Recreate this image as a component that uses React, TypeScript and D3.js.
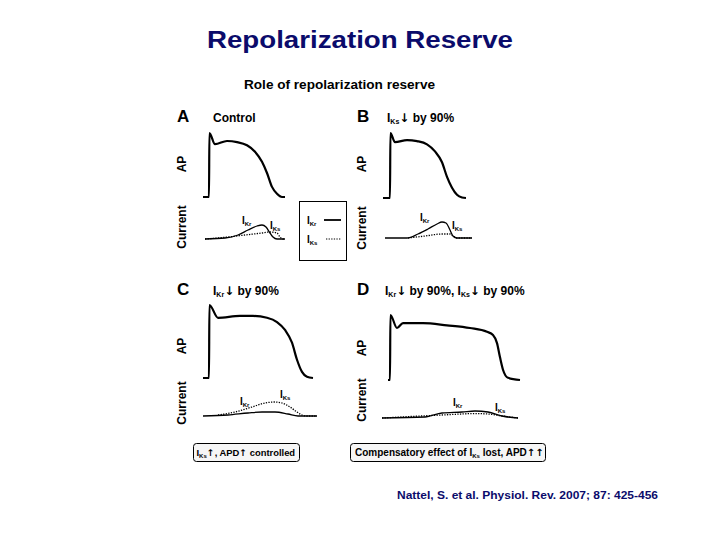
import * as d3 from "d3";

type Pt = [number, number];

// action potentials: [time ms, voltage mV]
const apA: Pt[] = [[-30, -85], [0, -85], [2, 35], [30, 14], [90, 20], [140, 18], [190, 12], [230, 0], [265, -19], [290, -40], [315, -66], [340, -79], [365, -85], [380, -85]];
const apB: Pt[] = [[-35, -85], [0, -85], [2, 35], [25, 18], [85, 22], [135, 20], [185, 14], [225, 1], [260, -19], [285, -46], [310, -66], [335, -79], [360, -84], [380, -85]];
const apC: Pt[] = [[-30, -85], [0, -85], [2, 35], [45, 14], [155, 17], [220, 17], [290, 14], [340, 7], [380, -6], [415, -27], [440, -55], [465, -75], [490, -83], [520, -85]];
const apD: Pt[] = [[-10, -85], [0, -85], [2, 35], [35, 11], [65, 20], [165, 20], [285, 16], [400, 11], [485, 4], [515, -2], [535, -17], [550, -43], [565, -66], [590, -81], [650, -85]];

// currents: [time ms, relative amplitude]
const ikrA: Pt[] = [[-20, 0], [80, 0.05], [145, 0.2], [195, 0.45], [240, 0.65], [265, 0.7], [285, 0.6], [305, 0.3], [320, 0.1], [340, 0], [380, 0]];
const iksA: Pt[] = [[-20, 0], [95, 0.1], [180, 0.2], [265, 0.3], [305, 0.35], [340, 0.3], [355, 0.1], [370, 0], [380, 0]];
const ikrB: Pt[] = [[-25, 0], [85, 0], [140, 0.2], [190, 0.45], [235, 0.7], [260, 0.8], [280, 0.75], [300, 0.4], [315, 0.1], [335, 0], [410, 0]];
const iksB: Pt[] = [[90, 0], [175, 0.1], [260, 0.2], [300, 0.2], [315, 0.1], [335, 0], [410, 0]];
const ikrC: Pt[] = [[-30, 0], [95, 0.05], [195, 0.15], [265, 0.2], [330, 0.2], [395, 0.1], [445, 0], [540, 0]];
const iksC: Pt[] = [[45, 0.05], [130, 0.2], [215, 0.45], [280, 0.65], [330, 0.7], [365, 0.65], [405, 0.45], [440, 0.2], [465, 0.05], [490, 0], [540, 0]];
const ikrD: Pt[] = [[-40, 0], [175, 0.05], [260, 0.25], [360, 0.3], [425, 0.35], [490, 0.3], [560, 0.1], [640, 0]];
const iksD: Pt[] = [[-40, 0], [260, 0.15], [425, 0.22], [490, 0.2], [560, 0.1], [640, 0]];

const font = "'Liberation Sans', Arial, Helvetica, sans-serif";
const arrowFont = "'DejaVu Sans', sans-serif";
const navy = "#0b0b6b";

interface PanelProps {
  letter: string;
  ap: Pt[];
  ikr: Pt[];
  iks: Pt[];
  x0: number;
  apBase: number;
  apPeak: number;
  curBase: number;
  labelX: number;
  apLabelY: number;
  curLabelY: number;
  titleX: number;
  titleY: number;
  title: React.ReactNode;
  ikrLabel: [number, number];
  iksLabel: [number, number];
}

// "I" with subscript; anything after is shifted back to the baseline
const Sub: React.FC<{ main: string; sub: string; size?: number; children?: React.ReactNode }> = ({ main, sub, size = 7, children }) => (
  <>
    <tspan>{main}</tspan>
    <tspan fontSize={size} dy={2}>{sub}</tspan>
    {children ? <tspan dy={-2}>{children}</tspan> : null}
  </>
);

const Arrow: React.FC<{ ch: string; size?: number }> = ({ ch, size }) => (
  <tspan fontFamily={arrowFont} fontSize={size}>{ch}</tspan>
);

const Panel: React.FC<PanelProps> = (p) => {
  const x = d3.scaleLinear([0, 1000], [p.x0, p.x0 + 200]);
  const yAp = d3.scaleLinear([-85, 35], [p.apBase, p.apPeak]);
  const yCur = d3.scaleLinear([0, 1], [p.curBase, p.curBase - 20]);
  const apLine = d3.line<Pt>((d) => x(d[0]), (d) => yAp(d[1])).curve(d3.curveMonotoneX);
  const curLine = d3.line<Pt>((d) => x(d[0]), (d) => yCur(d[1])).curve(d3.curveMonotoneX);
  return (
    <g fontFamily={font} fontWeight="bold">
      <text x={p.labelX} y={p.titleY} fontSize={17}>{p.letter}</text>
      <text x={p.titleX} y={p.titleY} fontSize={12}>{p.title}</text>
      <text transform={`translate(${p.labelX + 9},${p.apLabelY}) rotate(-90)`} textAnchor="middle" fontSize={12}>AP</text>
      <text transform={`translate(${p.labelX + 9},${p.curLabelY}) rotate(-90)`} textAnchor="middle" fontSize={12}>Current</text>
      <path d={apLine(p.ap) ?? undefined} fill="none" stroke="#000" strokeWidth={2.2} />
      <path d={curLine(p.iks) ?? undefined} fill="none" stroke="#000" strokeWidth={1.3} strokeDasharray="1.3,1.3" />
      <path d={curLine(p.ikr) ?? undefined} fill="none" stroke="#000" strokeWidth={1.3} />
      <text x={p.ikrLabel[0]} y={p.ikrLabel[1]} fontSize={10}><Sub main="I" sub="Kr" size={6} /></text>
      <text x={p.iksLabel[0]} y={p.iksLabel[1]} fontSize={10}><Sub main="I" sub="Ks" size={6} /></text>
    </g>
  );
};

const App: React.FC = () => {
  return (
    <svg width={720} height={540} style={{ position: "absolute", left: 0, top: 0, background: "#fff" }}>
      <text x={360} y={48} textAnchor="middle" fontFamily={font} fontWeight="bold" fontSize={23} fill={navy} textLength={306} lengthAdjust="spacingAndGlyphs">Repolarization Reserve</text>
      <text x={244} y={89} fontFamily={font} fontWeight="bold" fontSize={12} textLength={191} lengthAdjust="spacingAndGlyphs">Role of repolarization reserve</text>

      <Panel letter="A" ap={apA} ikr={ikrA} iks={iksA} x0={209} apBase={197} apPeak={133} curBase={239}
        labelX={177} apLabelY={164} curLabelY={227} titleX={213} titleY={122} title="Control"
        ikrLabel={[242, 224]} iksLabel={[270, 229]} />
      <Panel letter="B" ap={apB} ikr={ikrB} iks={iksB} x0={390} apBase={198} apPeak={133} curBase={238}
        labelX={357} apLabelY={164} curLabelY={228} titleX={387} titleY={122}
        title={<Sub main="I" sub="Ks"><Arrow ch="↓" /> by 90%</Sub>}
        ikrLabel={[420, 221]} iksLabel={[452, 229]} />
      <Panel letter="C" ap={apC} ikr={ikrC} iks={iksC} x0={209} apBase={378} apPeak={305} curBase={416}
        labelX={177} apLabelY={346} curLabelY={403} titleX={213} titleY={295}
        title={<Sub main="I" sub="Kr"><Arrow ch="↓" /> by 90%</Sub>}
        ikrLabel={[240, 405]} iksLabel={[280, 398]} />
      <Panel letter="D" ap={apD} ikr={ikrD} iks={iksD} x0={390} apBase={380} apPeak={315} curBase={418}
        labelX={357} apLabelY={348} curLabelY={400} titleX={385} titleY={295}
        title={<><Sub main="I" sub="Kr"><Arrow ch="↓" /> by 90%, </Sub><Sub main="I" sub="Ks"><Arrow ch="↓" /> by 90%</Sub></>}
        ikrLabel={[453, 406]} iksLabel={[495, 411]} />

      {/* legend */}
      <g fontFamily={font} fontWeight="bold">
        <rect x={299.5} y={201.5} width={47} height={59} fill="none" stroke="#000" strokeWidth={1} />
        <text x={307} y={224} fontSize={10}><Sub main="I" sub="Kr" size={6} /></text>
        <line x1={324} x2={341} y1={220} y2={220} stroke="#000" strokeWidth={1.8} />
        <text x={307} y={243} fontSize={10}><Sub main="I" sub="Ks" size={6} /></text>
        <line x1={326} x2={341} y1={239} y2={239} stroke="#000" strokeWidth={1.2} strokeDasharray="1.3,1.3" />
      </g>

      {/* annotation boxes */}
      <g fontFamily={font} fontWeight="bold" fontSize={10}>
        <rect x={193.5} y={443.5} width={106} height={18} rx={3} fill="#f6f6f6" stroke="#000" strokeWidth={1} />
        <text x={196.5} y={456} fontSize={9.4}>
          <Sub main="I" sub="Ks" size={6}><Arrow ch="↑" />, APD<Arrow ch="↑" /> controlled</Sub>
        </text>
        <rect x={350.5} y={443.5} width={195} height={18} rx={3} fill="#f6f6f6" stroke="#000" strokeWidth={1} />
        <text x={355} y={456}>
          <tspan>Compensatory effect of </tspan>
          <Sub main="I" sub="Ks" size={6}> lost, APD<Arrow ch="↑↑" /></Sub>
        </text>
      </g>

      <text x={397} y={499} fontFamily={font} fontWeight="bold" fontSize={11} fill={navy} textLength={261} lengthAdjust="spacingAndGlyphs">Nattel, S. et al. Physiol. Rev. 2007; 87: 425-456</text>
    </svg>
  );
};

export default App;
